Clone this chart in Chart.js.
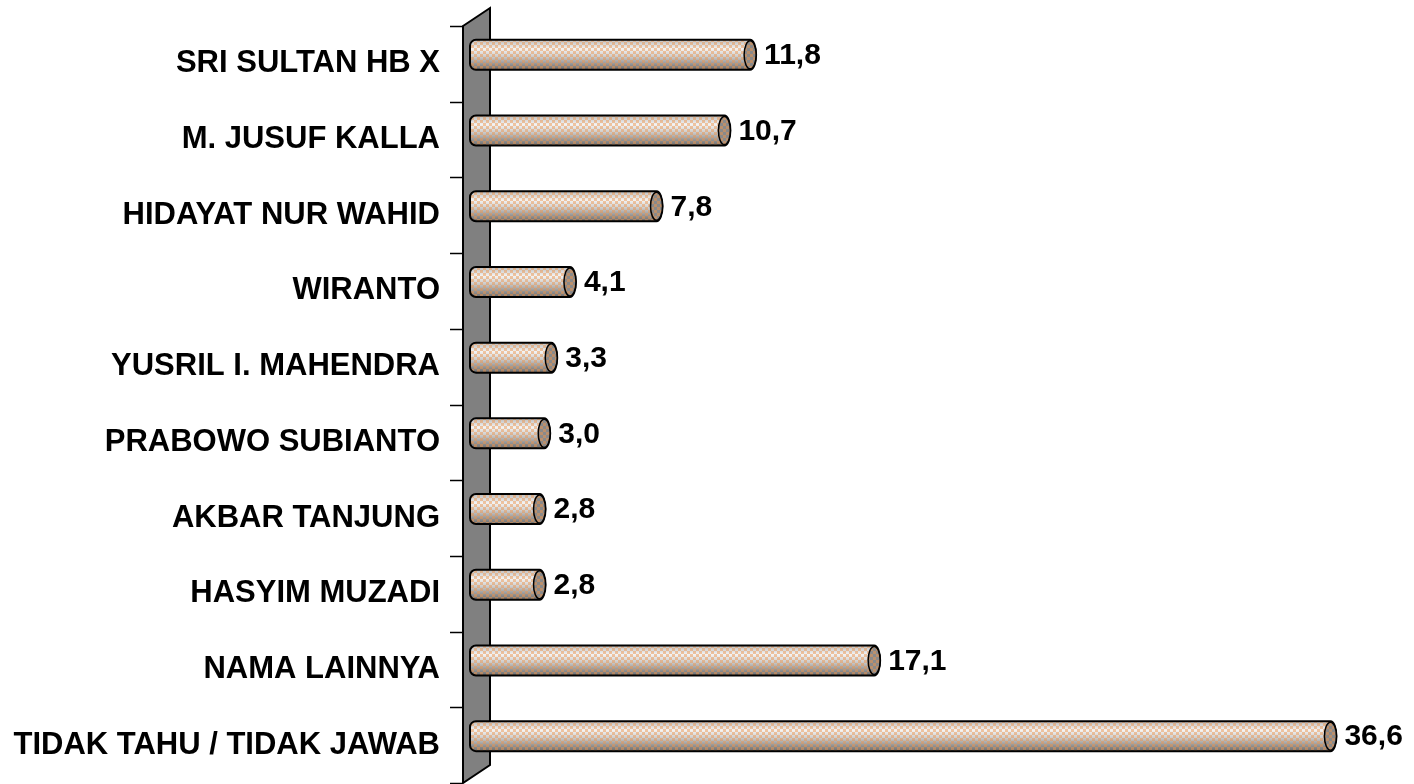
<!DOCTYPE html>
<html>
<head>
<meta charset="utf-8">
<script src="https://cdn.jsdelivr.net/npm/chart.js@4/dist/chart.umd.min.js"></script>
<style>
  html, body { margin: 0; padding: 0; background: #fff; }
  #wrap { width: 1414px; height: 784px; }
</style>
</head>
<body>
<div id="wrap"><canvas id="barChart" width="1414" height="784"></canvas></div>
<script>
// ---- data ----
const CATEGORIES = [
    'SRI SULTAN HB X',
    'M. JUSUF KALLA',
    'HIDAYAT NUR WAHID',
    'WIRANTO',
    'YUSRIL I. MAHENDRA',
    'PRABOWO SUBIANTO',
    'AKBAR TANJUNG',
    'HASYIM MUZADI',
    'NAMA LAINNYA',
    'TIDAK TAHU / TIDAK JAWAB'
];
const VALUES = [11.8, 10.7, 7.8, 4.1, 3.3, 3.0, 2.8, 2.8, 17.1, 36.6];
const X_MIN = 0;
const X_MAX = 40;

const FONT = "'Liberation Sans', Arial, sans-serif";

// checker pattern used on the cylinders
function makeChecker(ctx) {
    const c = document.createElement('canvas');
    c.width = 6; c.height = 6;
    const g = c.getContext('2d');
    g.fillStyle = 'rgba(235, 150, 80, 0.5)';
    g.fillRect(0, 0, 3, 3);
    g.fillRect(3, 3, 3, 3);
    return ctx.createPattern(c, 'repeat');
}

// gray side wall + tick marks
const wallPlugin = {
    id: 'wall',
    beforeDatasetsDraw(chart) {
        const { ctx, chartArea } = chart;
        const left = chartArea.left, top = chartArea.top, bottom = chartArea.bottom;
        const x0 = left - 11, x1 = left + 16, depth = 18;

        ctx.save();
        ctx.beginPath();
        ctx.moveTo(x0, top);
        ctx.lineTo(x1, top - depth);
        ctx.lineTo(x1, bottom - depth);
        ctx.lineTo(x0, bottom);
        ctx.closePath();
        ctx.fillStyle = '#808080';
        ctx.fill();
        ctx.lineWidth = 2;
        ctx.strokeStyle = '#000';
        ctx.lineJoin = 'miter';
        ctx.stroke();

        // category boundary ticks
        const n = CATEGORIES.length;
        const band = (bottom - top) / n;
        ctx.lineWidth = 1.5;
        for (let i = 0; i <= n; i++) {
            const y = Math.round(top + i * band) + 0.5;
            ctx.beginPath();
            ctx.moveTo(x0 - 13, y);
            ctx.lineTo(x0, y);
            ctx.stroke();
        }
        ctx.restore();
    }
};

// cylinder bars + value labels
const cylinderPlugin = {
    id: 'cylinders',
    afterDatasetsDraw(chart) {
        const { ctx } = chart;
        const meta = chart.getDatasetMeta(0);
        const pattern = makeChecker(ctx);
        const lift = 9;

        meta.data.forEach((bar, i) => {
            const h = bar.height;
            const cy = bar.y - lift;
            const top = cy - h / 2, bot = cy + h / 2;
            const xs = bar.base - 4, xe = bar.x;
            const r = 6, rx = 6;

            ctx.save();
            // body
            ctx.beginPath();
            ctx.moveTo(xs + r, top);
            ctx.lineTo(xe, top);
            ctx.ellipse(xe, cy, rx, h / 2, 0, -Math.PI / 2, Math.PI / 2, false);
            ctx.lineTo(xs + r, bot);
            ctx.arcTo(xs, bot, xs, bot - r, r);
            ctx.lineTo(xs, top + r);
            ctx.arcTo(xs, top, xs + r, top, r);
            ctx.closePath();

            const grad = ctx.createLinearGradient(0, top, 0, bot);
            grad.addColorStop(0, '#bdbdbd');
            grad.addColorStop(0.3, '#f4f4f4');
            grad.addColorStop(0.55, '#cdcdcd');
            grad.addColorStop(1, '#6c6c6c');
            ctx.fillStyle = grad;
            ctx.fill();
            ctx.fillStyle = pattern;
            ctx.fill();
            ctx.lineWidth = 2;
            ctx.strokeStyle = '#000';
            ctx.stroke();

            // end cap
            ctx.beginPath();
            ctx.ellipse(xe, cy, rx, h / 2 - 1, 0, 0, Math.PI * 2);
            ctx.fillStyle = '#8a8a8a';
            ctx.fill();
            ctx.fillStyle = pattern;
            ctx.fill();
            ctx.lineWidth = 1.5;
            ctx.stroke();

            // value label
            ctx.fillStyle = '#000';
            ctx.font = 'bold 30px ' + FONT;
            ctx.textAlign = 'left';
            ctx.textBaseline = 'middle';
            ctx.fillText(VALUES[i].toFixed(1).replace('.', ','), xe + 14, cy + 1);
            ctx.restore();
        });
    }
};

new Chart(document.getElementById('barChart'), {
    type: 'bar',
    data: {
        labels: CATEGORIES,
        datasets: [{
            data: VALUES,
            backgroundColor: 'rgba(0,0,0,0)',
            borderWidth: 0,
            barThickness: 30
        }]
    },
    options: {
        indexAxis: 'y',
        responsive: false,
        animation: false,
        layout: { padding: { left: 0, right: 4, top: 26, bottom: 1 } },
        plugins: {
            legend: { display: false },
            tooltip: { enabled: false }
        },
        scales: {
            x: {
                display: false,
                min: X_MIN,
                max: X_MAX
            },
            y: {
                afterFit(scale) {
                    scale.width = 474;
                    scale.paddingTop = 0;
                    scale.paddingBottom = 0;
                },
                grid: { display: false, drawTicks: false },
                border: { display: false },
                ticks: {
                    padding: 34,
                    color: '#000',
                    font: { family: FONT, size: 31, weight: 'bold' }
                }
            }
        }
    },
    plugins: [wallPlugin, cylinderPlugin]
});
</script>
</body>
</html>
